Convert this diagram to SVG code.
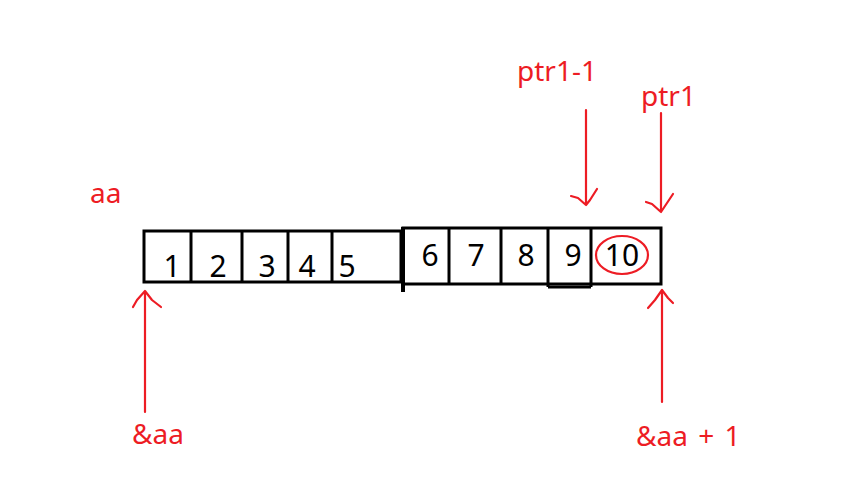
<svg xmlns="http://www.w3.org/2000/svg" width="862" height="503" viewBox="0 0 862 503">
<style>
.box{fill:none;stroke:#000;stroke-width:3}
.num{font-family:"Noto Sans","Open Sans",sans-serif;font-size:30px;fill:#000;text-anchor:middle}
.lbl{font-family:"Noto Sans","Open Sans",sans-serif;font-size:28px;fill:#ED1C24}
.arr{fill:none;stroke:#ED1C24;stroke-width:2.2;stroke-linecap:round;stroke-linejoin:round}
</style>
<rect width="862" height="503" fill="#fff"/>
<g id="array-left">
<rect class="box" x="144" y="231" width="257" height="51"/>
<line class="box" x1="191" y1="231" x2="191" y2="282"/>
<line class="box" x1="242" y1="231" x2="242" y2="282"/>
<line class="box" x1="288" y1="231" x2="288" y2="282"/>
<line class="box" x1="332" y1="231" x2="332" y2="282"/>
<text class="num" x="172" y="277">1</text>
<text class="num" x="218" y="277">2</text>
<text class="num" x="267" y="277">3</text>
<text class="num" x="307" y="277">4</text>
<text class="num" x="347" y="277">5</text>
</g>
<g id="array-right">
<line x1="403" y1="227" x2="403" y2="292" stroke="#000" stroke-width="4"/>
<rect class="box" x="403" y="228" width="258" height="56"/>
<line class="box" x1="449" y1="228" x2="449" y2="284"/>
<line class="box" x1="501" y1="228" x2="501" y2="284"/>
<line class="box" x1="548" y1="228" x2="548" y2="287"/>
<line class="box" x1="591" y1="228" x2="591" y2="287"/>
<line class="box" x1="548" y1="287" x2="591" y2="287"/>
<text class="num" x="430" y="266">6</text>
<text class="num" x="476" y="266">7</text>
<text class="num" x="526" y="266">8</text>
<text class="num" x="573" y="266">9</text>
<text class="num" x="622" y="266">10</text>
<ellipse cx="622" cy="255" rx="26" ry="19" fill="none" stroke="#ED1C24" stroke-width="2.2"/>
</g>
<g id="labels">
<text class="lbl" x="90" y="203">aa</text>
<text class="lbl" x="517" y="81">ptr1-1</text>
<text class="lbl" x="641" y="106">ptr1</text>
<text class="lbl" x="132" y="444">&amp;aa</text>
<text class="lbl" x="636" y="446" word-spacing="3">&amp;aa + 1</text>
</g>
<g id="connectors">
<path class="arr" d="M586,110 V205 M571,196 L578,198 L586,205 L590,200 L597,189"/>
<path class="arr" d="M661,113 V212 M646,202 L652,204 L661,212 L665,206 L673,194"/>
<path class="arr" d="M145,412 V291 M133,307 L137,300 L145,291 L152,300 L161,307"/>
<path class="arr" d="M662,402 V290 M648,308 L655,300 L662,290 L668,298 L673,303"/>
</g>
</svg>
